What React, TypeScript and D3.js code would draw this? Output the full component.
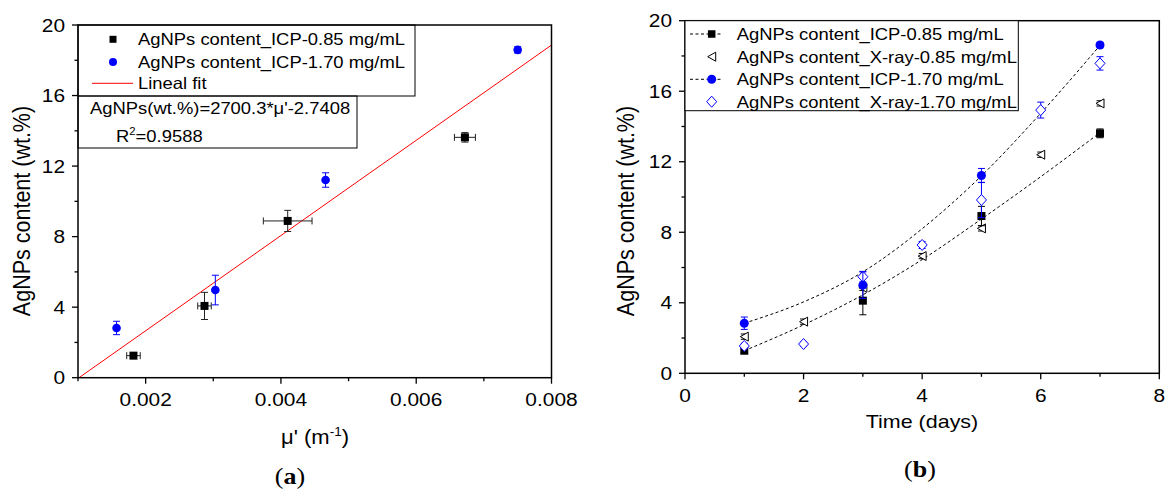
import React from 'react';
import * as d3 from 'd3';

// ---- panel (a) data ----
const muICP085 = [0.00182, 0.00287, 0.0041, 0.00672];
const agICP085 = [1.25, 4.07, 8.89, 13.63];
const muErrICP085 = [0.0001, 0.0001, 0.00036, 0.000155];
const agErrICP085 = [0.12, 0.77, 0.6, 0.27];

const muICP170 = [0.00157, 0.00303, 0.00466, 0.0075];
const agICP170 = [2.82, 4.97, 11.21, 18.59];
const agErrICP170 = [0.38, 0.84, 0.41, 0.18];

const fitSlope = 2700.3;
const fitIntercept = -2.7408;
const fitR2 = '0.9588';

const xTicksA = [0.002, 0.004, 0.006, 0.008];
const xMinorA = [0.001, 0.003, 0.005, 0.007];
const yTicks = [0, 4, 8, 12, 16, 20];
const yMinor = [2, 6, 10, 14, 18];

// ---- panel (b) data ----
const daysICP = [1, 3, 5, 7];
const daysXray = [1, 2, 3, 4, 5, 6, 7];
const icp085 = [1.28, 4.12, 8.92, 13.61];
const icp085Err = [0.12, 0.8, 0.55, 0.25];
const icp170 = [2.84, 5.0, 11.22, 18.62];
const icp170Err = [0.35, 0.75, 0.4, 0.15];
const xray085 = [2.08, 2.93, 4.85, 6.65, 8.22, 12.4, 15.31];
const xray085Err = [0.15, 0.15, 0.15, 0.15, 0.15, 0.15, 0.15];
const xray170 = [1.55, 1.66, 5.48, 7.28, 9.83, 14.93, 17.58];
const xray170Err = [0.15, 0.12, 0.3, 0.2, 1.0, 0.45, 0.38];
// dashed fit curves at each day
const fitLow = [1.28, 2.75, 4.45, 6.45, 8.75, 11.15, 13.65];
const fitHigh = [2.84, 4.05, 5.75, 8.2, 11.2, 14.75, 18.6];

const xTicksB = [0, 2, 4, 6, 8];
const xMinorB = [1, 3, 5, 7];

const legendA = ['AgNPs content_ICP-0.85 mg/mL', 'AgNPs content_ICP-1.70 mg/mL', 'Lineal fit'];
const legendB = [
  'AgNPs content_ICP-0.85 mg/mL',
  'AgNPs content_X-ray-0.85 mg/mL',
  'AgNPs content_ICP-1.70 mg/mL',
  'AgNPs content_X-ray-1.70 mg/mL',
];

const SANS = 'Liberation Sans, Arial, sans-serif';
const SERIF = 'Liberation Serif, Times New Roman, serif';
const STRETCH = 1.13;
const BLUE = '#0000ff';

function Txt(props: any) {
  const { x, y, size, anchor = 'start', rotate = false, family = SANS, children } = props;
  const t = `translate(${x},${y}) scale(${STRETCH},1)` + (rotate ? ' rotate(-90)' : '');
  return (
    <text transform={t} fontSize={size} textAnchor={anchor} fontFamily={family} fill="#000">
      {children}
    </text>
  );
}

function Square({ cx, cy, s = 8 }: any) {
  return <rect x={cx - s / 2} y={cy - s / 2} width={s} height={s} fill="#000" />;
}
function Dot({ cx, cy, r = 4.3 }: any) {
  return <circle cx={cx} cy={cy} r={r} fill={BLUE} />;
}
function Tri({ cx, cy }: any) {
  return (
    <path
      d={`M${cx - 4},${cy} L${cx + 4},${cy - 4.5} L${cx + 4},${cy + 4.5} Z`}
      fill="#fff"
      stroke="#000"
      strokeWidth={1}
    />
  );
}
function Diamond({ cx, cy }: any) {
  return (
    <path
      d={`M${cx},${cy - 5.5} L${cx + 5},${cy} L${cx},${cy + 5.5} L${cx - 5},${cy} Z`}
      fill="#fff"
      stroke={BLUE}
      strokeWidth={1}
    />
  );
}

function VErr({ x, y1, y2, color }: any) {
  return (
    <g stroke={color} strokeWidth={1}>
      <line x1={x} x2={x} y1={y1} y2={y2} />
      <line x1={x - 3.5} x2={x + 3.5} y1={y1} y2={y1} />
      <line x1={x - 3.5} x2={x + 3.5} y1={y2} y2={y2} />
    </g>
  );
}
function HErr({ y, x1, x2, color }: any) {
  return (
    <g stroke={color} strokeWidth={1}>
      <line x1={x1} x2={x2} y1={y} y2={y} />
      <line x1={x1} x2={x1} y1={y - 3.5} y2={y + 3.5} />
      <line x1={x2} x2={x2} y1={y - 3.5} y2={y + 3.5} />
    </g>
  );
}

function Frame({ x, y, xt, xm, xfmt, left, right, top, bottom }: any) {
  return (
    <g>
      <rect x={left} y={top} width={right - left} height={bottom - top} fill="none" stroke="#000" strokeWidth={1.5} />
      {xt.map((v: number) => (
        <g key={'xt' + v}>
          <line x1={x(v)} x2={x(v)} y1={bottom} y2={bottom + 6} stroke="#000" strokeWidth={1.3} />
          <Txt x={x(v)} y={bottom + 28.5} size={18.5} anchor="middle">{xfmt(v)}</Txt>
        </g>
      ))}
      {xm.map((v: number) => (
        <line key={'xm' + v} x1={x(v)} x2={x(v)} y1={bottom} y2={bottom + 3.5} stroke="#000" strokeWidth={1.3} />
      ))}
      {yTicks.map((v) => (
        <g key={'yt' + v}>
          <line x1={left - 6} x2={left} y1={y(v)} y2={y(v)} stroke="#000" strokeWidth={1.3} />
          <Txt x={left - 13} y={y(v) + 6.7} size={18.5} anchor="end">{v}</Txt>
        </g>
      ))}
      {yMinor.map((v) => (
        <line key={'ym' + v} x1={left - 3.5} x2={left} y1={y(v)} y2={y(v)} stroke="#000" strokeWidth={1.3} />
      ))}
    </g>
  );
}

function PanelA() {
  const left = 78, right = 551.5, top = 25, bottom = 377.7;
  const x = d3.scaleLinear().domain([0.001, 0.008]).range([left, right]);
  const y = d3.scaleLinear().domain([0, 20]).range([bottom, top]);
  const x0 = -fitIntercept / fitSlope;
  const fitPts: [number, number][] = [x0, 0.008].map((m) => [m, fitSlope * m + fitIntercept]);
  const fitLine = d3.line<[number, number]>().x((d) => x(d[0])).y((d) => y(d[1]));
  const fmt = d3.format('.3f');
  return (
    <g>
      <path d={fitLine(fitPts) || ''} stroke="#ff0000" strokeWidth={1} fill="none" />
      {muICP085.map((m, i) => (
        <g key={'a85' + i}>
          <HErr y={y(agICP085[i])} x1={x(m - muErrICP085[i])} x2={x(m + muErrICP085[i])} color="#222" />
          <VErr x={x(m)} y1={y(agICP085[i] + agErrICP085[i])} y2={y(agICP085[i] - agErrICP085[i])} color="#222" />
          <Square cx={x(m)} cy={y(agICP085[i])} />
        </g>
      ))}
      {muICP170.map((m, i) => (
        <g key={'a17' + i}>
          <VErr x={x(m)} y1={y(agICP170[i] + agErrICP170[i])} y2={y(agICP170[i] - agErrICP170[i])} color={BLUE} />
          <Dot cx={x(m)} cy={y(agICP170[i])} />
        </g>
      ))}
      <Frame x={x} y={y} xt={xTicksA} xm={xMinorA} xfmt={fmt} left={left} right={right} top={top} bottom={bottom} />
      {/* legend */}
      <rect x={left} y={top} width={337} height={71} fill="none" stroke="#000" strokeWidth={1} />
      <Square cx={113} cy={39.3} s={7} />
      <Dot cx={113} cy={62} r={4} />
      <line x1={92} x2={133} y1={83.3} y2={83.3} stroke="#ff0000" strokeWidth={1} />
      {legendA.map((t, i) => (
        <Txt key={t} x={138} y={[39.3, 62, 83.3][i] + 5.9} size={16.3}>{t}</Txt>
      ))}
      <rect x={left} y={96} width={279} height={52} fill="none" stroke="#000" strokeWidth={1} />
      <Txt x={90} y={114} size={16.3}>{`AgNPs(wt.%)=${fitSlope}*μ'${fitIntercept}`}</Txt>
      <Txt x={116} y={142} size={16.3}>
        R<tspan fontSize={10} dy={-7}>2</tspan><tspan dy={7}>={fitR2}</tspan>
      </Txt>
      {/* titles */}
      <Txt x={30} y={211} size={21.5} anchor="middle" rotate>AgNPs content (wt.%)</Txt>
      <Txt x={315} y={444} size={19.5} anchor="middle">
        μ' (m<tspan fontSize={12} dy={-8}>-1</tspan><tspan dy={8}>)</tspan>
      </Txt>
      <Txt x={290} y={484} size={23} anchor="middle" family={SERIF}>
        (<tspan fontWeight="bold">a</tspan>)
      </Txt>
    </g>
  );
}

function PanelB() {
  const left = 685, right = 1159.3, top = 20.7, bottom = 373.3;
  const x = d3.scaleLinear().domain([0, 8]).range([left, right]);
  const y = d3.scaleLinear().domain([0, 20]).range([bottom, top]);
  const curve = d3.line<number>().x((_, i) => x(daysXray[i])).y((d) => y(d)).curve(d3.curveMonotoneX);
  return (
    <g>
      <path d={curve(fitLow) || ''} stroke="#000" strokeWidth={1} strokeDasharray="3,2.5" fill="none" />
      <path d={curve(fitHigh) || ''} stroke="#000" strokeWidth={1} strokeDasharray="3,2.5" fill="none" />
      {daysXray.map((d, i) => (
        <g key={'x85' + d}>
          <VErr x={x(d)} y1={y(xray085[i] + xray085Err[i])} y2={y(xray085[i] - xray085Err[i])} color="#000" />
          <Tri cx={x(d)} cy={y(xray085[i])} />
        </g>
      ))}
      {daysICP.map((d, i) => (
        <g key={'i85' + d}>
          <VErr x={x(d)} y1={y(icp085[i] + icp085Err[i])} y2={y(icp085[i] - icp085Err[i])} color="#000" />
          <Square cx={x(d)} cy={y(icp085[i])} />
        </g>
      ))}
      {daysXray.map((d, i) => (
        <g key={'x17' + d}>
          <VErr x={x(d)} y1={y(xray170[i] + xray170Err[i])} y2={y(xray170[i] - xray170Err[i])} color={BLUE} />
          <Diamond cx={x(d)} cy={y(xray170[i])} />
        </g>
      ))}
      {daysICP.map((d, i) => (
        <g key={'i17' + d}>
          <VErr x={x(d)} y1={y(icp170[i] + icp170Err[i])} y2={y(icp170[i] - icp170Err[i])} color={BLUE} />
          <Dot cx={x(d)} cy={y(icp170[i])} r={4.5} />
        </g>
      ))}
      <Frame x={x} y={y} xt={xTicksB} xm={xMinorB} xfmt={(v: number) => String(v)} left={left} right={right} top={top} bottom={bottom} />
      {/* legend */}
      <rect x={left} y={top} width={333.3} height={90} fill="#fff" stroke="#000" strokeWidth={1} />
      {[34, 79.3].map((ly) => (
        <line key={'ll' + ly} x1={690} x2={723} y1={ly} y2={ly} stroke="#000" strokeWidth={1} strokeDasharray="3,2.5" />
      ))}
      <Square cx={711.7} cy={34} s={7.5} />
      <Tri cx={711.7} cy={56.7} />
      <Dot cx={711.7} cy={79.3} r={4.5} />
      <Diamond cx={711.7} cy={101.7} />
      {legendB.map((t, i) => (
        <Txt key={t} x={736.7} y={[34, 56.7, 79.3, 101.7][i] + 5.9} size={16.3}>{t}</Txt>
      ))}
      {/* titles */}
      <Txt x={634} y={211} size={21.5} anchor="middle" rotate>AgNPs content (wt.%)</Txt>
      <Txt x={922} y={428} size={19} anchor="middle">Time (days)</Txt>
      <Txt x={920} y={477} size={23} anchor="middle" family={SERIF}>
        (<tspan fontWeight="bold">b</tspan>)
      </Txt>
    </g>
  );
}

export default function App() {
  return (
    <svg
      width={1165}
      height={491}
      style={{ position: 'absolute', left: 0, top: 0, background: '#fff' }}
    >
      <rect width={1165} height={491} fill="#fff" />
      <PanelA />
      <PanelB />
    </svg>
  );
}
